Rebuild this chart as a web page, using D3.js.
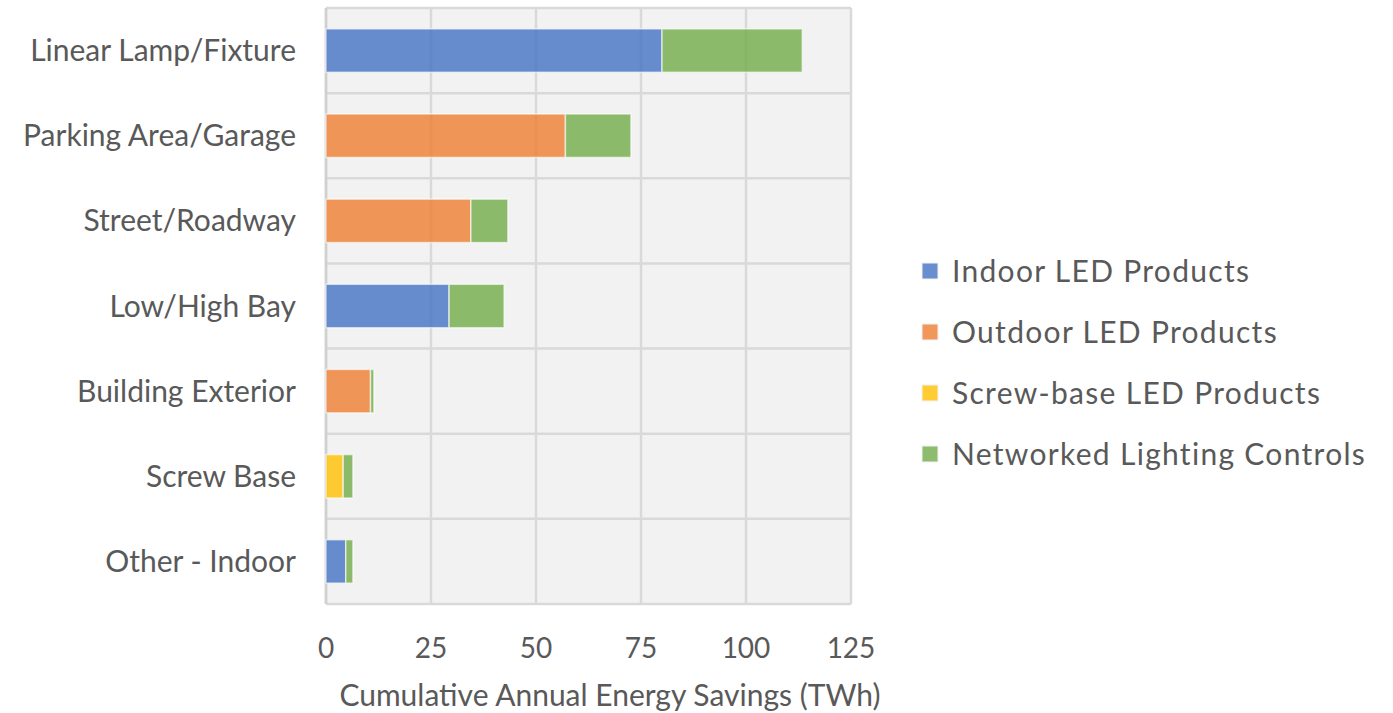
<!DOCTYPE html>
<html>
<head>
<meta charset="utf-8">
<script src="https://cdn.jsdelivr.net/npm/d3@7"></script>
<style>
  body { margin: 0; background: #fff; }
  text { font-family: Lato, "Open Sans", sans-serif; fill: #595959; }
</style>
</head>
<body>
<div id="canvas"></div>
<script>
// data
const categories = ["Linear Lamp/Fixture", "Parking Area/Garage", "Street/Roadway", "Low/High Bay", "Building Exterior", "Screw Base", "Other - Indoor"];
const seriesNames = ["Indoor LED Products", "Outdoor LED Products", "Screw-base LED Products", "Networked Lighting Controls"];
const indoorLED = [80, 0, 0, 29.3, 0, 0, 4.7];
const outdoorLED = [0, 57, 34.5, 0, 10.6, 0, 0];
const screwBaseLED = [0, 0, 0, 0, 0, 4.1, 0];
const networkedControls = [33.4, 15.6, 8.8, 13.1, 0.8, 2.3, 1.7];
const xTicks = [0, 25, 50, 75, 100, 125];
const colours = ["#4472C4", "#ED7D31", "#FFC000", "#70AD47"];

const width = 1393, height = 713;
const plot = {left: 326, right: 851, top: 8, bottom: 604};

const svg = d3.select("#canvas")
    .append("svg")
    .attr("width", width)
    .attr("height", height);

// build rows for the stack
const seriesValues = [indoorLED, outdoorLED, screwBaseLED, networkedControls];
const rows = categories.map((c, i) => {
    const r = {category: c};
    seriesNames.forEach((s, j) => r[s] = seriesValues[j][i]);
    return r;
});
const stacked = d3.stack().keys(seriesNames)(rows);

// scales
const x = d3.scaleLinear()
    .domain([0, 125])
    .range([plot.left, plot.right]);

const y = d3.scaleBand()
    .domain(categories)
    .range([plot.top, plot.bottom])
    .paddingInner(0.49)
    .paddingOuter(0.245);

const yGrid = d3.scaleBand()
    .domain(categories)
    .range([plot.top, plot.bottom]);

// plot area background
svg.append("rect")
    .attr("x", plot.left)
    .attr("y", plot.top)
    .attr("width", plot.right - plot.left)
    .attr("height", plot.bottom - plot.top)
    .attr("fill", "#f2f2f2");

// vertical gridlines
svg.append("g")
    .selectAll("line")
    .data(xTicks)
    .join("line")
    .attr("x1", d => x(d))
    .attr("x2", d => x(d))
    .attr("y1", plot.top)
    .attr("y2", plot.bottom)
    .attr("stroke", "#d9d9d9")
    .attr("stroke-width", 2.5);

// horizontal gridlines at the band boundaries
svg.append("g")
    .selectAll("line")
    .data(categories.map(c => yGrid(c)).concat([plot.bottom]))
    .join("line")
    .attr("x1", plot.left)
    .attr("x2", plot.right)
    .attr("y1", d => d)
    .attr("y2", d => d)
    .attr("stroke", "#d9d9d9")
    .attr("stroke-width", 2.5);

// left axis line
svg.append("line")
    .attr("x1", plot.left)
    .attr("x2", plot.left)
    .attr("y1", plot.top)
    .attr("y2", plot.bottom)
    .attr("stroke", "#d0d0d0")
    .attr("stroke-width", 2.5);

// bars
svg.append("g")
    .selectAll("g")
    .data(stacked)
    .join("g")
    .attr("fill", (d, i) => colours[i])
    .selectAll("rect")
    .data(d => d.filter(p => p[1] - p[0] > 0))
    .join("rect")
    .attr("x", d => x(d[0]))
    .attr("y", d => y(d.data.category))
    .attr("width", d => x(d[1]) - x(d[0]))
    .attr("height", y.bandwidth())
    .attr("fill-opacity", 0.8)
    .attr("stroke", "#ffffff")
    .attr("stroke-opacity", 0.6)
    .attr("stroke-width", 1.5);

// category labels
svg.append("g")
    .selectAll("text")
    .data(categories)
    .join("text")
    .attr("x", 296)
    .attr("y", d => yGrid(d) + yGrid.bandwidth() / 2)
    .attr("dy", "0.35em")
    .attr("text-anchor", "end")
    .style("font-size", "30px")
    .text(d => d);

// x tick labels
svg.append("g")
    .selectAll("text")
    .data(xTicks)
    .join("text")
    .attr("x", d => x(d))
    .attr("y", 648)
    .attr("dy", "0.35em")
    .attr("text-anchor", "middle")
    .style("font-size", "28px")
    .text(d => d);

// axis title
svg.append("text")
    .attr("x", 610)
    .attr("y", 695)
    .attr("dy", "0.35em")
    .attr("text-anchor", "middle")
    .style("font-size", "30px")
    .text("Cumulative Annual Energy Savings (TWh)");

// legend
const legend = svg.append("g")
    .selectAll("g")
    .data(seriesNames)
    .join("g")
    .attr("transform", (d, i) => "translate(922," + (271 + i * 61) + ")");

legend.append("rect")
    .attr("x", 0)
    .attr("y", -8)
    .attr("width", 16)
    .attr("height", 16)
    .attr("fill", (d, i) => colours[i])
    .attr("fill-opacity", 0.8)
    .attr("stroke", "#f2f2f2")
    .attr("stroke-width", 1);

legend.append("text")
    .attr("x", 30)
    .attr("y", 0)
    .attr("dy", "0.35em")
    .style("font-size", "30px")
    .style("letter-spacing", "1.3px")
    .text(d => d);
</script>
</body>
</html>
